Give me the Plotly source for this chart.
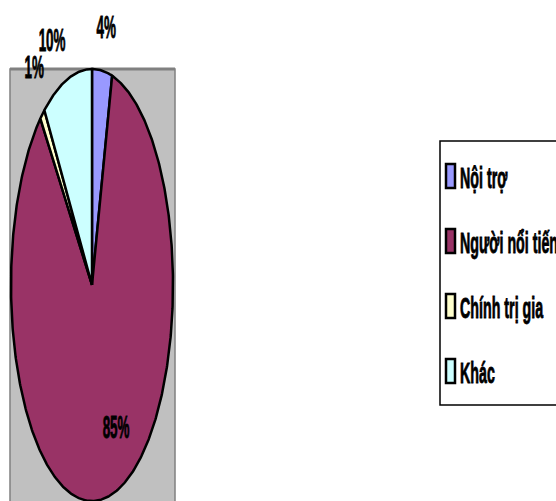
import numpy as np
import plotly.graph_objects as go

# Occupation shares (percent)
categories = ["Nội trợ", "Người nổi tiếng", "Chính trị gia", "Khác"]
shares = [4, 85, 1, 10]
colors = ["#9999FF", "#993366", "#FFFFCC", "#CCFFFF"]

W, H = 556, 501
FONT = "Liberation Sans, Arial, sans-serif"

# Pixel-space frame for the vertically stretched pie
CX, CY = 92, 285
RX, RY = 81, 216

# small hand placement tweaks for the percentage labels (px)
label_nudge = [(2, 3), (12, -6), (3, -10), (-9, 6)]

fig = go.Figure()

# Grey plot area behind the pie
fig.add_shape(type="rect", xref="x", yref="y", x0=10, x1=175, y0=69, y1=520,
              fillcolor="#C0C0C0", line=dict(color="#808080", width=1.5), layer="below")
fig.add_shape(type="line", xref="x", yref="y", x0=10, x1=175, y0=69, y1=69,
              line=dict(color="#808080", width=3), layer="below")

total = float(sum(shares))
cum = 0.0
annotations = []
for name, v, c, (nx, ny) in zip(categories, shares, colors, label_nudge):
    a0 = cum / total * 360.0
    a1 = (cum + v) / total * 360.0
    cum += v
    t = np.radians(np.linspace(a0, a1, max(4, int(v * 6))))
    xs = np.concatenate([[CX], CX + RX * np.sin(t), [CX]])
    ys = np.concatenate([[CY], CY - RY * np.cos(t), [CY]])
    fig.add_trace(go.Scatter(
        x=xs, y=ys, mode="lines", fill="toself", fillcolor=c,
        line=dict(color="black", width=2.5), name=name,
        hoverinfo="name", showlegend=False,
    ))
    # percentage label along the slice's mid angle
    mid = np.radians((a0 + a1) / 2.0)
    r = 0.7 if v > 50 else 1.22
    annotations.append(dict(
        x=CX + r * RX * np.sin(mid) + nx, y=CY - r * RY * np.cos(mid) + ny,
        xref="x", yref="y", text=f"<b>{v}%</b>", showarrow=False,
        font=dict(family=FONT, size=32, color="black"),
    ))

# Legend box drawn on the right
LX, LTOP, LBOT = 440, 141, 405
fig.add_shape(type="rect", xref="x", yref="y", x0=LX, x1=W + 20, y0=LTOP, y1=LBOT,
              fillcolor="white", line=dict(color="black", width=1.5))
for i, (name, c) in enumerate(zip(categories, colors)):
    yc = 176 + 65 * i
    fig.add_shape(type="rect", xref="x", yref="y", x0=446, x1=455,
                  y0=yc - 12, y1=yc + 12, fillcolor=c,
                  line=dict(color="black", width=2.5))
    annotations.append(dict(
        x=458, y=yc + 1, xref="x", yref="y", xanchor="left", yanchor="middle",
        text=f"<b>{name}</b>", showarrow=False,
        font=dict(family=FONT, size=30, color="black"),
    ))

fig.update_layout(
    width=W, height=H,
    margin=dict(l=0, r=0, t=0, b=0),
    paper_bgcolor="white", plot_bgcolor="white",
    xaxis=dict(range=[0, W], visible=False, fixedrange=True),
    yaxis=dict(range=[H, 0], visible=False, fixedrange=True),
    annotations=annotations,
    showlegend=False,
)

# Condense the lettering horizontally (tall, narrow, heavy type)
condense_js = """
var gd = document.getElementById('{plot_id}');
gd.querySelectorAll('text.annotation-text').forEach(function (t) {
    var pct = t.textContent.trim().slice(-1) === '%';
    t.style.transformBox = 'fill-box';
    t.style.transformOrigin = pct ? 'center' : 'left center';
    t.style.transform = pct ? 'scaleX(0.42)' : 'scaleX(0.475)';
    t.style.stroke = 'black';
    t.style.strokeWidth = '0.9px';
});
"""

fig.write_html("out.html", post_script=condense_js)
